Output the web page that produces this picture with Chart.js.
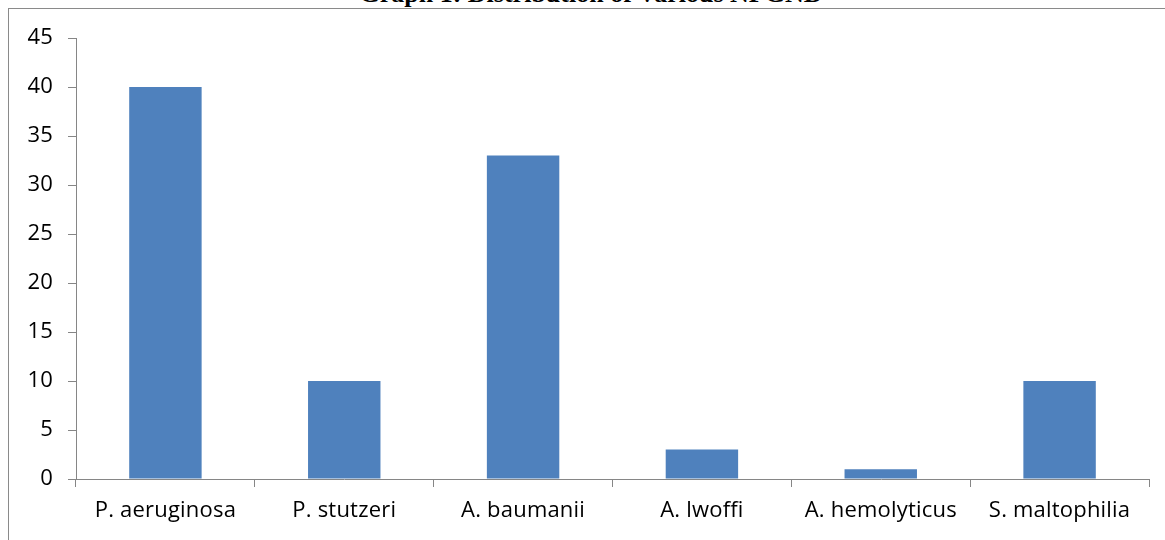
<!DOCTYPE html>
<html>
<head>
<meta charset="utf-8">
<script src="https://cdn.jsdelivr.net/npm/chart.js"></script>
<style>
    html, body { margin: 0; padding: 0; background: #fff; overflow: hidden; }
    #page { position: relative; width: 1165px; height: 540px; overflow: hidden; }
    #frame { position: absolute; left: 8px; top: 8px; width: 1200px; height: 600px; border: 1px solid #8a8a8a; }
    #titulo { position: absolute; left: 0; top: -20px; width: 1182px; text-align: center;
              font: bold 26px "Liberation Serif", "DejaVu Serif", serif; color: #000; line-height: 28px; }
    #chartBox { position: absolute; left: 0; top: 0; width: 1165px; height: 540px; }
</style>
</head>
<body>
<div id="page">
    <div id="frame"></div>
    <div id="titulo">Graph 1: Distribution of Various NFGND</div>
    <div id="chartBox"><canvas id="nfgnbChart"></canvas></div>
</div>

<script>
    // ==============================
    // Datos
    // ==============================
    var organismos = ["P. aeruginosa", "P. stutzeri", "A. baumanii", "A. lwoffi", "A. hemolyticus", "S. maltophilia"];
    var cantidades = [40, 10, 33, 3, 1, 10];
    var ejeYMin = 0;
    var ejeYMax = 45;
    var ejeYPaso = 5;

    var gris = "#868686";
    var fuente = "'Open Sans', Lato, sans-serif";

    // sin ligaduras (lwoffi)
    var sinLigaduras = {
        id: "sinLigaduras",
        beforeDraw: function(chart) { chart.ctx.letterSpacing = "0.2px"; }
    };

    // ==============================
    // Gráfico de barras
    // ==============================
    var ctx = document.getElementById("nfgnbChart").getContext("2d");
    var nfgnbChart = new Chart(ctx, {
        type: "bar",
        data: {
            labels: organismos,
            datasets: [{
                label: "NFGNB",
                data: cantidades,
                backgroundColor: "#4f81bd",
                borderWidth: 0,
                categoryPercentage: 1,
                barPercentage: 0.405
            }]
        },
        options: {
            responsive: true,
            maintainAspectRatio: false,
            animation: false,
            layout: { padding: { left: 0, right: 16, top: 38, bottom: 0 } },
            plugins: {
                legend: { display: false },
                title: { display: false },
                tooltip: { enabled: false }
            },
            scales: {
                x: {
                    grid: { display: true, drawOnChartArea: false, drawTicks: true, tickLength: 8, color: gris, offset: true },
                    border: { display: true, color: gris, width: 1 },
                    ticks: { color: "#000", font: { family: fuente, size: 22 }, padding: 11, maxRotation: 0, autoSkip: false },
                    afterFit: function(scale) { scale.height = 61; }
                },
                y: {
                    min: ejeYMin,
                    max: ejeYMax,
                    grid: { display: true, drawOnChartArea: false, drawTicks: true, tickLength: 8, color: gris },
                    border: { display: true, color: gris, width: 1 },
                    ticks: { stepSize: ejeYPaso, color: "#000", font: { family: fuente, size: 22 }, padding: 15 },
                    afterFit: function(scale) { scale.width = 76; }
                }
            }
        },
        plugins: [sinLigaduras]
    });
</script>
</body>
</html>
